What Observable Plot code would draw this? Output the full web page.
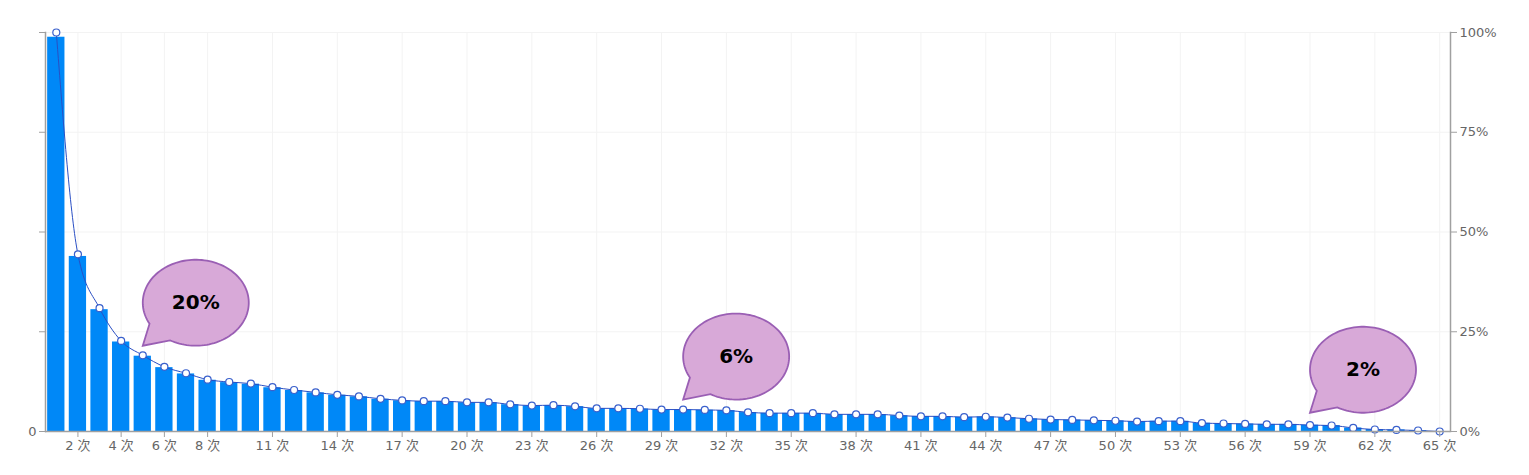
<!DOCTYPE html>
<html>
<head>
<meta charset="utf-8">
<script src="https://cdn.jsdelivr.net/npm/d3@7"></script>
<script src="https://cdn.jsdelivr.net/npm/@observablehq/plot@0.6"></script>
<style>
  html, body { margin: 0; padding: 0; background: #fff; }
  #chart svg { display: block; }
</style>
</head>
<body>
<div id="chart"></div>
<script>
// Categories: number of times (次)
const categories = d3.range(1, 66);
// Retention percentage per category (right axis, line + points)
const percents = [100, 44.4, 30.9, 22.7, 19.1, 16.2, 14.6, 13.0, 12.4, 12.0,
  11.1, 10.4, 9.8, 9.2, 8.8, 8.2, 7.8, 7.6, 7.6, 7.3,
  7.3, 6.8, 6.5, 6.6, 6.3, 5.8, 5.8, 5.7, 5.5, 5.5,
  5.4, 5.3, 4.8, 4.6, 4.6, 4.6, 4.3, 4.3, 4.3, 4.0,
  3.8, 3.8, 3.6, 3.7, 3.5, 3.2, 3.0, 2.9, 2.8, 2.7,
  2.5, 2.6, 2.6, 2.1, 2.0, 1.9, 1.8, 1.8, 1.6, 1.5,
  0.9, 0.5, 0.4, 0.25, 0];
// Left (unlabelled) axis for the bars tops out slightly above the right axis
const leftAxisMax = 101.2;
// Tick labels shown on the x axis
const xTicks = [2, 4, 6, 8, 11, 14, 17, 20, 23, 26, 29, 32, 35, 38, 41, 44, 47, 50, 53, 56, 59, 62, 65];
const yTicks = [0, 25, 50, 75, 100];
// Speech bubble annotations
const bubbleLabels = ["20%", "6%", "2%"];
const bubbleAt = [5, 30, 59];
const bubbleTip = [21.5, 8.0, 4.7];

const data = categories.map((k, i) => ({k, v: percents[i], bar: percents[i] * 100 / leftAxisMax}));
const bubbles = bubbleLabels.map((t, i) => ({t, k: bubbleAt[i], y: bubbleTip[i]}));

// speech bubble symbol: tail tip at the anchor, ellipse up and to the right
const RX = 53, RY = 43, CX = 53, CY = -43;
const bubbleSymbol = {
  draw(ctx) {
    const t0 = 150.7 * Math.PI / 180, t1 = 479 * Math.PI / 180;
    ctx.moveTo(0, 0);
    const n = 120;
    for (let j = 0; j <= n; j++) {
      const t = t0 + (t1 - t0) * j / n;
      ctx.lineTo(CX + RX * Math.cos(t), CY + RY * Math.sin(t));
    }
    ctx.closePath();
  }
};

const font = "'DejaVu Sans', 'Noto Sans CJK SC', sans-serif";

const chart = Plot.plot({
  width: 1529,
  height: 475,
  marginLeft: 45,
  marginRight: 79,
  marginTop: 32,
  marginBottom: 44,
  style: {fontFamily: font, fontSize: "13px", background: "#fff", overflow: "visible"},
  x: {type: "band", domain: categories, paddingInner: 0.2, paddingOuter: 0.1, axis: null},
  y: {domain: [0, 100], axis: null},
  marks: [
    Plot.gridY(yTicks, {stroke: "#f3f3f3", strokeOpacity: 1}),
    Plot.gridX(xTicks, {stroke: "#f3f3f3", strokeOpacity: 1}),
    Plot.barY(data, {x: "k", y: "bar", fill: "#0088f7"}),
    Plot.line(data, {x: "k", y: "v", curve: "monotone-x", stroke: "#2a4fc4", strokeWidth: 1}),
    Plot.dot(data, {x: "k", y: "v", r: 3.5, fill: "#fff", stroke: "#3a60cc", strokeWidth: 1.2}),
    Plot.ruleY([0], {stroke: "#a0a0a0", strokeWidth: 1.5}),
    Plot.frame({anchor: "left", stroke: "#a0a0a0", strokeWidth: 1.5}),
    Plot.frame({anchor: "right", stroke: "#a0a0a0", strokeWidth: 1.5}),
    Plot.axisY({anchor: "left", ticks: yTicks, tickSize: 6, tickPadding: 3, stroke: "#a0a0a0", fill: "#666",
      tickFormat: d => d === 0 ? "0" : "", label: null, fontSize: 13}),
    Plot.axisY({anchor: "right", ticks: yTicks, tickSize: 6, tickPadding: 3, stroke: "#a0a0a0", fill: "#666",
      tickFormat: d => d + "%", label: null, fontSize: 13}),
    Plot.axisX({ticks: xTicks, tickSize: 6, tickPadding: 3, stroke: "#a0a0a0", fill: "#666",
      tickFormat: d => d + " 次", label: null, fontSize: 13}),
    Plot.dot(bubbles, {x: "k", y: "y", symbol: bubbleSymbol, r: 10, fill: "#d8a9d8", stroke: "#9a5fb4", strokeWidth: 1.8}),
    Plot.text(bubbles, {x: "k", y: "y", text: "t", dx: CX, dy: CY, fontSize: 20, fontWeight: "bold", fill: "#000", fontFamily: font})
  ]
});
document.getElementById("chart").appendChild(chart);
</script>
</body>
</html>
